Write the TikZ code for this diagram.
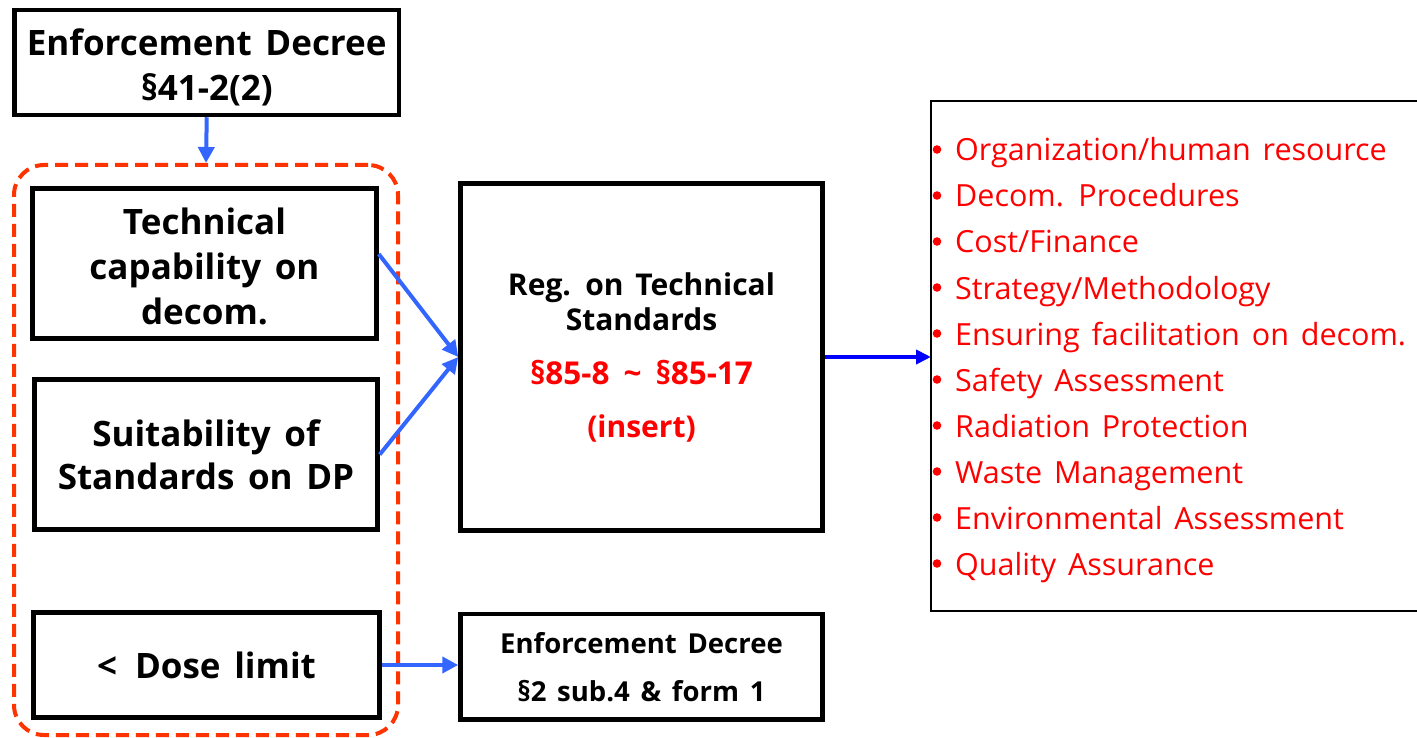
\documentclass[tikz,border=0pt]{standalone}
\usepackage{fontspec}
\setmainfont{Open Sans}[WordSpace=1.5]
\usetikzlibrary{arrows.meta}
\definecolor{ablue}{HTML}{3366FF}
\definecolor{pblue}{HTML}{0000FF}
\definecolor{dred}{HTML}{FF3300}
\definecolor{tred}{HTML}{FF0000}
\begin{document}
\begin{tikzpicture}[x=1pt,y=-1pt,
  box/.style={draw, line width=4.5pt, align=center, inner sep=0pt},
  bigtxt/.style={font=\bfseries\fontsize{35}{45}\selectfont},
  midtxt/.style={font=\bfseries\fontsize{30}{35}\selectfont},
  smtxt/.style={font=\bfseries\fontsize{27.5}{48}\selectfont},
  listitem/.style={anchor=base west, inner sep=0pt, text=tred, font=\fontsize{30.5}{38}\selectfont},
  barrow/.style={draw=ablue, line width=4pt, -{Triangle[length=16pt,width=16pt]}},
  parrow/.style={draw=pblue, line width=4pt, -{Triangle[length=15pt,width=14pt]}}
]
\useasboundingbox (0,0) rectangle (1417,738);
% top box
\node[box, bigtxt, minimum width=384.5pt, minimum height=105pt] (ed) at (206.75,62.5) {\rule{0pt}{36pt}Enforcement Decree\\§41-2(2)};
% dashed group
\node[draw=dred, line width=4pt, dash pattern=on 13pt off 7pt, rounded corners=30pt,
      minimum width=384pt, minimum height=570pt, inner sep=0pt] (grp) at (206,450) {};
% left boxes
\node[box, bigtxt, minimum width=344pt, minimum height=150pt] (b1) at (204.5,263.5) {\rule{0pt}{33pt}Technical\\capability on\\decom.};
\node[box, font=\bfseries\fontsize{35}{43}\selectfont, minimum width=343pt, minimum height=150pt] (b2) at (206,454.5) {Suitability of\\Standards on DP};
\node[box, bigtxt, minimum width=346pt, minimum height=105pt] (b3) at (206.5,665) {<\hspace{18pt}Dose limit};
% centre boxes
\node[box, midtxt, minimum width=362pt, minimum height=347pt] (reg) at (641.5,357)
  {Reg. on Technical\\Standards\\[19pt]\textcolor{tred}{\fontsize{31.5}{35}\selectfont §85-8\hspace{14pt}\symbol{"7E}\hspace{14pt}§85-17}\\[18pt]\textcolor{tred}{(insert)}};
\node[box, smtxt, minimum width=362pt, minimum height=105.5pt] (ed2) at (641.5,666.8) {Enforcement Decree\\§2 sub.4 \& form 1};
% list box (right side cut by the page edge)
\coordinate (lw) at (931,356);
\draw[line width=2pt] (1417,101) -- (931,101) -- (931,611) -- (1417,611);
\foreach \t [count=\i] in {Organization/human resource, Decom. Procedures, Cost/Finance, Strategy/Methodology, Ensuring facilitation on decom., Safety Assessment, Radiation Protection, Waste Management, Environmental Assessment, Quality Assurance}{
  \fill[tred] (937,{149.5+46*(\i-1)}) circle (4.3pt);
  \node[listitem] (l\i) at (955,{161+46*(\i-1)}) {\t};
}
% connectors
\draw[barrow] (ed.south) -- (grp.north);
\draw[barrow] ([yshift=9.5pt]b1.east) -- (reg.west);
\draw[barrow] (b2.east) -- (reg.west);
\draw[barrow] (b3.east) -- (b3.east -| ed2.west);
\draw[parrow] (reg.east) -- (reg.east -| lw);
\end{tikzpicture}
\end{document}
